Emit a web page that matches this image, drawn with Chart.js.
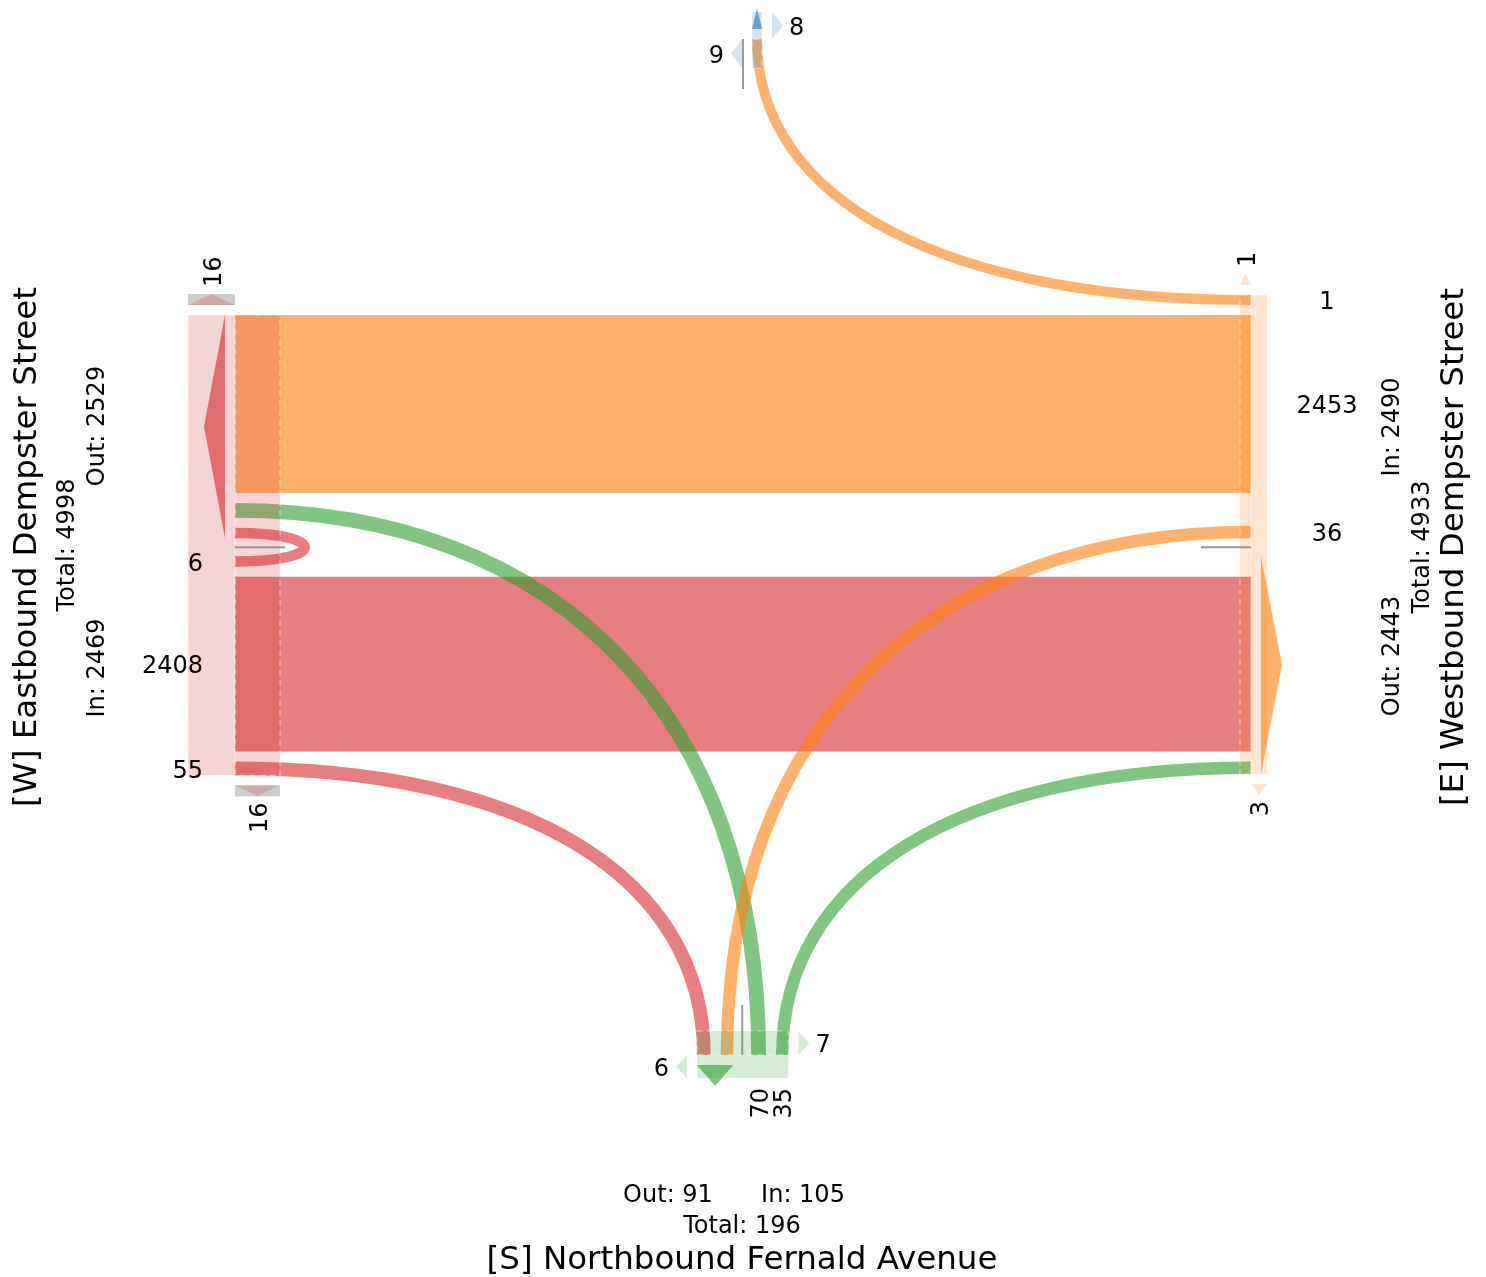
<!DOCTYPE html>
<html>
<head>
<meta charset="utf-8">
<script src="https://cdn.jsdelivr.net/npm/chart.js@4.4.0/dist/chart.umd.min.js"></script>
<style>
  html, body { margin: 0; padding: 0; background: #fff; }
</style>
</head>
<body>
<canvas id="flow-chart" width="1486" height="1277"></canvas>
<script>
// approaches (tab10 colours)
const approachIds = ['W', 'E', 'S', 'N'];
const approachTitles = ['[W] Eastbound Dempster Street', '[E] Westbound Dempster Street', '[S] Northbound Fernald Avenue', ''];
const approachColors = ['214,39,40', '255,127,14', '44,160,44', '31,119,180'];

// turning movements (vehicles)
const flowFrom = ['W', 'W', 'W', 'E', 'E', 'S', 'S', 'N'];
const flowTo = ['E', 'S', 'W', 'W', 'S', 'W', 'E', 'E'];
const flowCounts = [2453, 70, 6, 2408, 35, 55, 36, 1];

// crossing counts per approach: [before first lane, after last lane]
const crossW = [16, 16];
const crossE = [1, 3];
const crossS = [6, 7];
const crossN = [9, 8];
const crossCounts = { W: crossW, E: crossE, S: crossS, N: crossN };

// drawing constants (pixels)
const BAND_MIN = 10, BAND_SCALE = 0.0685, GAP = 10, HALF_DIV = 9;
const KAPPA = 0.62, UTURN_REACH = 93;
const TEXT_DROP = 3; // DejaVu digits sit a bit high with 'middle'

// face = where lanes meet the box, dir = into the intersection
const LAYOUT = {
  W: { face: 235, axis: 'y', dir: [1, 0], inner: 45, outer: 47, before: 'outer', after: 'inner', outFirst: true },
  E: { face: 1251, axis: 'y', dir: [-1, 0], inner: 11, outer: 16, before: 'inner', after: 'outer', outFirst: false },
  S: { face: 1055, axis: 'x', dir: [0, -1], inner: 24, outer: 23, before: 'outer', after: 'inner', outFirst: true },
  N: { face: 39, axis: 'x', dir: [0, 1], inner: 29, outer: 27, before: 'inner', after: 'outer', outFirst: false }
};

function bandWidth(v) { return BAND_MIN + v * BAND_SCALE; }
function idx(a, b) { return flowFrom.findIndex((f, i) => f === a && flowTo[i] === b); }
function colorOf(a, alpha) { return `rgba(${approachColors[approachIds.indexOf(a)]},${alpha})`; }

function stack(start, first, second) {
  const a = {}, b = {};
  let p = start;
  first.forEach(f => { const w = bandWidth(flowCounts[f]); a[f] = p + w / 2; p += w + GAP; });
  const divider = first.length ? p - GAP + HALF_DIV : p;
  p = divider + HALF_DIV;
  second.forEach(f => { const w = bandWidth(flowCounts[f]); b[f] = p + w / 2; p += w + GAP; });
  return { a, b, divider };
}

// lane positions along each approach
const outPos = {}, inPos = {}, divider = {};
let st = stack(315, [idx('W', 'E'), idx('W', 'S'), idx('W', 'W')], [idx('W', 'W'), idx('E', 'W'), idx('S', 'W')]);
outPos.W = st.a; inPos.W = st.b; divider.W = st.divider;
st = stack(697, [idx('S', 'W'), idx('S', 'E')], [idx('W', 'S'), idx('E', 'S')]);
outPos.S = st.a; inPos.S = st.b; divider.S = st.divider;
st = stack(743, [], [idx('N', 'E')]);
inPos.N = st.a; outPos.N = st.b; divider.N = st.divider;

// E: through lanes line up with W, the rest sit around them
{
  const we = idx('W', 'E'), ew = idx('E', 'W'), se = idx('S', 'E'), ne = idx('N', 'E'), es = idx('E', 'S');
  divider.E = divider.W;
  inPos.E = {}; outPos.E = {};
  inPos.E[we] = outPos.W[we];
  outPos.E[ew] = inPos.W[ew];
  inPos.E[se] = divider.E - HALF_DIV - bandWidth(flowCounts[se]) / 2;
  inPos.E[ne] = outPos.W[we] - bandWidth(flowCounts[we]) / 2 - GAP - bandWidth(flowCounts[ne]) / 2;
  outPos.E[es] = inPos.W[ew] + bandWidth(flowCounts[ew]) / 2 + GAP + bandWidth(flowCounts[es]) / 2;
}

function extent(a) {
  let lo = Infinity, hi = -Infinity;
  flowCounts.forEach((v, i) => {
    const w = bandWidth(v) / 2;
    if (flowFrom[i] === a) { lo = Math.min(lo, outPos[a][i] - w); hi = Math.max(hi, outPos[a][i] + w); }
    if (flowTo[i] === a) { lo = Math.min(lo, inPos[a][i] - w); hi = Math.max(hi, inPos[a][i] + w); }
  });
  return [lo, hi];
}

function pt(a, along, depth) {
  const L = LAYOUT[a];
  const base = L.axis === 'y' ? [L.face, along] : [along, L.face];
  return [base[0] + L.dir[0] * depth, base[1] + L.dir[1] * depth];
}

const flowPlugin = {
  id: 'intersectionFlows',
  afterDraw(chart) {
    const ctx = chart.ctx;
    const sx = chart.scales.x, sy = chart.scales.y;
    const X = v => sx.getPixelForValue(v);
    const Y = v => sy.getPixelForValue(v);
    const unit = X(1) - X(0);
    const P = p => [X(p[0]), Y(p[1])];

    function poly(points, fill) {
      ctx.beginPath();
      points.forEach((p, k) => { const q = P(p); k ? ctx.lineTo(q[0], q[1]) : ctx.moveTo(q[0], q[1]); });
      ctx.closePath();
      ctx.fillStyle = fill;
      ctx.fill();
    }
    function rect(a, al0, al1, d0, d1, fill, dashed) {
      const p = pt(a, al0, d0), q = pt(a, al1, d1);
      const x0 = X(Math.min(p[0], q[0])), x1 = X(Math.max(p[0], q[0]));
      const y0 = Y(Math.min(p[1], q[1])), y1 = Y(Math.max(p[1], q[1]));
      ctx.fillStyle = fill;
      ctx.fillRect(x0, y0, x1 - x0, y1 - y0);
      if (dashed) {
        ctx.save();
        ctx.setLineDash([6, 4]);
        ctx.lineWidth = 1.2;
        ctx.strokeStyle = 'rgba(255,255,255,0.45)';
        ctx.strokeRect(x0, y0, x1 - x0, y1 - y0);
        ctx.restore();
      }
    }
    function text(str, x, y, size, align, rot) {
      ctx.save();
      ctx.translate(X(x), Y(y));
      if (rot) ctx.rotate(-Math.PI / 2);
      ctx.font = `${size}px "DejaVu Sans"`;
      ctx.fillStyle = '#000';
      ctx.textAlign = align;
      ctx.textBaseline = 'middle';
      ctx.fillText(str, 0, TEXT_DROP);
      ctx.restore();
    }

    // flows, biggest first
    const order = flowCounts.map((v, i) => i).sort((i, j) => flowCounts[j] - flowCounts[i]);
    order.forEach(i => {
      const a = flowFrom[i], b = flowTo[i];
      const p0 = pt(a, outPos[a][i], 0), p3 = pt(b, inPos[b][i], 0);
      const d0 = LAYOUT[a].dir, d3 = LAYOUT[b].dir;
      let l0, l3;
      if (a === b) {
        l0 = l3 = UTURN_REACH;
      } else {
        const dx = p3[0] - p0[0], dy = p3[1] - p0[1];
        l0 = KAPPA * Math.abs(dx * d0[0] + dy * d0[1]);
        l3 = KAPPA * Math.abs(dx * d3[0] + dy * d3[1]);
      }
      const c1 = P([p0[0] + d0[0] * l0, p0[1] + d0[1] * l0]);
      const c2 = P([p3[0] + d3[0] * l3, p3[1] + d3[1] * l3]);
      const s = P(p0), e = P(p3);
      ctx.beginPath();
      ctx.moveTo(s[0], s[1]);
      ctx.bezierCurveTo(c1[0], c1[1], c2[0], c2[1], e[0], e[1]);
      ctx.lineWidth = bandWidth(flowCounts[i]) * unit;
      ctx.lineCap = 'butt';
      ctx.strokeStyle = colorOf(b, 0.6);
      ctx.stroke();
    });

    approachIds.forEach(a => {
      const L = LAYOUT[a];
      const [lo, hi] = extent(a);
      // approach box and lane column
      rect(a, lo, hi, 0, L.inner, colorOf(a, 0.2), true);
      rect(a, lo, hi, -L.outer, 0, colorOf(a, 0.2), true);

      // outgoing arrow
      const o0 = L.outFirst ? lo : divider[a] + HALF_DIV;
      const o1 = L.outFirst ? divider[a] - HALF_DIV : hi;
      poly([pt(a, o0, -10), pt(a, o1, -10), pt(a, (o0 + o1) / 2, -31)], colorOf(a, 0.6));

      // crossing markers
      const counts = crossCounts[a];
      [['before', lo - 21, lo - 10, lo - 21, counts[0]], ['after', hi + 10, hi + 21, hi + 21, counts[1]]].forEach(([side, m0, m1, apex, val]) => {
        const which = L[side];
        const d0 = which === 'outer' ? -L.outer : 0;
        const d1 = which === 'outer' ? 0 : L.inner;
        if (val >= 10) rect(a, m0, m1, d0, d1, 'rgba(128,128,128,0.4)', false);
        const baseAl = side === 'before' ? m1 : m0;
        poly([pt(a, baseAl, d0), pt(a, baseAl, d1), pt(a, apex, (d0 + d1) / 2)], colorOf(a, 0.2));
        const lab = pt(a, side === 'before' ? lo - 28 : hi + 27, (d0 + d1) / 2);
        if (L.axis === 'y') text(String(val), lab[0], lab[1], 24, side === 'before' ? 'left' : 'right', true);
        else text(String(val), lab[0], lab[1], 24, side === 'before' ? 'right' : 'left', false);
      });

      // divider between outgoing and incoming lanes
      const q0 = P(pt(a, divider[a], 0)), q1 = P(pt(a, divider[a], 50));
      ctx.beginPath();
      ctx.moveTo(q0[0], q0[1]);
      ctx.lineTo(q1[0], q1[1]);
      ctx.lineWidth = 2;
      ctx.strokeStyle = 'rgba(128,128,128,0.8)';
      ctx.stroke();
    });

    // incoming counts
    flowCounts.forEach((v, i) => {
      const b = flowTo[i];
      const p = inPos[b][i];
      if (b === 'W') text(String(v), LAYOUT.W.face - 32, p, 24, 'right', false);
      if (b === 'E') text(String(v), LAYOUT.E.face + 76, p, 24, 'center', false);
      if (b === 'S') text(String(v), p, LAYOUT.S.face + 33, 24, 'right', true);
    });

    // totals
    const sumIn = a => flowCounts.reduce((s, v, i) => s + (flowTo[i] === a ? v : 0), 0);
    const sumOut = a => flowCounts.reduce((s, v, i) => s + (flowFrom[i] === a ? v : 0), 0);
    text(approachTitles[0], 25, 547, 32.5, 'center', true);
    text('Total: ' + (sumIn('W') + sumOut('W')), 65, 545, 24, 'center', true);
    text('Out: ' + sumOut('W'), 95, 426, 24, 'center', true);
    text('In: ' + sumIn('W'), 95, 668, 24, 'center', true);

    text(approachTitles[1], 1452, 547, 32.5, 'center', true);
    text('Total: ' + (sumIn('E') + sumOut('E')), 1420, 547, 24, 'center', true);
    text('In: ' + sumIn('E'), 1390, 427, 24, 'center', true);
    text('Out: ' + sumOut('E'), 1390, 656, 24, 'center', true);

    text('Out: ' + sumOut('S'), 668, 1193, 24, 'center', false);
    text('In: ' + sumIn('S'), 803, 1193, 24, 'center', false);
    text('Total: ' + (sumIn('S') + sumOut('S')), 742, 1224, 24, 'center', false);
    text(approachTitles[2], 742, 1258, 32.5, 'center', false);
  }
};

const ctx = document.getElementById('flow-chart').getContext('2d');
const chart = new Chart(ctx, {
  type: 'scatter',
  data: { datasets: [] },
  options: {
    responsive: false,
    animation: false,
    devicePixelRatio: 1,
    layout: { padding: 0 },
    plugins: { legend: { display: false }, tooltip: { enabled: false } },
    scales: {
      x: { type: 'linear', min: 0, max: 1486, display: false },
      y: { type: 'linear', min: 0, max: 1277, reverse: true, display: false }
    }
  },
  plugins: [flowPlugin]
});
</script>
</body>
</html>
